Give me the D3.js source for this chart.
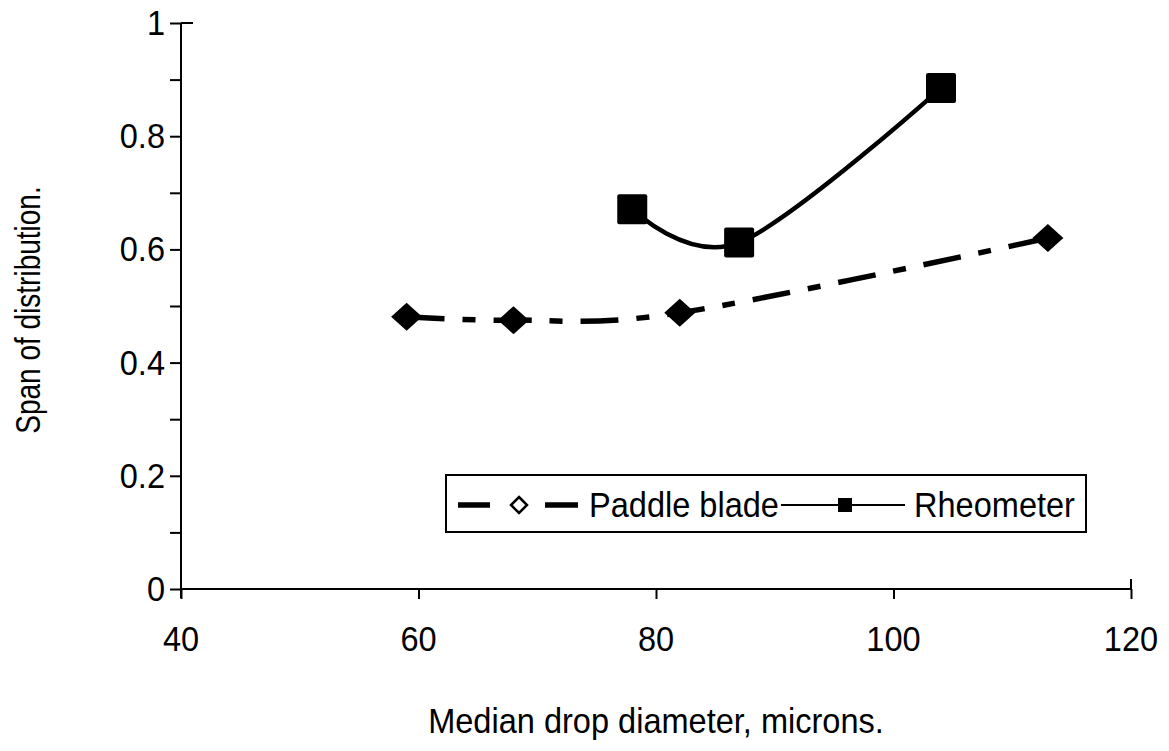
<!DOCTYPE html>
<html><head><meta charset="utf-8">
<script src="https://cdn.jsdelivr.net/npm/d3@7"></script>
<style>
body{margin:0;background:#fff;}
svg text{font-family:"Liberation Sans",Arial,sans-serif;fill:#000;}
</style></head>
<body>
<svg id="chart" width="1169" height="751"></svg>
<script>
// ---- data ----
const paddleX = [59, 68, 82, 113];
const paddleY = [0.481, 0.475, 0.488, 0.620];
const rheoX = [78, 87, 104];
const rheoY = [0.671, 0.612, 0.885];
const xTicks = [40, 60, 80, 100, 120];
const yTicks = [0, 0.2, 0.4, 0.6, 0.8, 1];
const yMinorTicks = [0.1, 0.3, 0.5, 0.7, 0.9];
const seriesNames = ["Paddle blade", "Rheometer"];
const xTitle = "Median drop diameter, microns.";
const yTitle = "Span of distribution.";

const svg = d3.select("#chart");
const x = d3.scaleLinear().domain([40, 120]).range([181, 1131]);
const y = d3.scaleLinear().domain([0, 1]).range([589, 23]);
const SX = 0.93; // horizontal scale of horizontal text
const FS = 35;

function hText(g, tx, ty, txt, anchor) {
  const t = g.append("g").attr("transform", `translate(${tx},${ty}) scale(${SX},1)`);
  t.append("text").attr("text-anchor", anchor).attr("font-size", FS).text(txt);
  return t;
}

// axes
const xAxis = d3.axisBottom(x).tickValues(xTicks).tickSize(10).tickFormat("");
const gx = svg.append("g").attr("transform", `translate(0,${y(0)})`).call(xAxis);
const yAxis = d3.axisLeft(y).tickValues(yTicks.concat(yMinorTicks)).tickSize(11).tickFormat("");
const gy = svg.append("g").attr("transform", `translate(${x(40)},0)`).call(yAxis);
[gx, gy].forEach(g => {
  g.selectAll("path.domain").attr("stroke", "#000").attr("stroke-width", 2);
  g.selectAll(".tick line").attr("stroke", "#000").attr("stroke-width", 2);
});
gx.select("path.domain").attr("d", `M${x(40)},0H${x(120)}`);
gy.select("path.domain").attr("d", `M0,${y(1)}V${y(0) + 9}`);
// cross ticks at the ends
gx.append("line").attr("x1", x(120)).attr("x2", x(120)).attr("y1", -10).attr("y2", 0).attr("stroke", "#000").attr("stroke-width", 2);
gy.append("line").attr("x1", 0).attr("x2", 12).attr("y1", y(1)).attr("y2", y(1)).attr("stroke", "#000").attr("stroke-width", 2);

// tick labels
xTicks.forEach(v => hText(svg, x(v), y(0) + 62, String(v), "middle"));
yTicks.forEach(v => hText(svg, x(40) - 16, y(v) + 12, String(v), "end"));

// titles
hText(svg, 656, 733, xTitle, "middle");
const yt = svg.append("g").attr("transform", `translate(40,310) scale(1.28,1) rotate(-90)`);
yt.append("text").attr("text-anchor", "middle").attr("font-size", 28).text(yTitle);

// lines
const line = d3.line().x(d => x(d[0])).y(d => y(d[1])).curve(d3.curveCardinal.tension(0));
const pData = paddleX.map((v, i) => [v, paddleY[i]]);
const rData = rheoX.map((v, i) => [v, rheoY[i]]);
svg.append("path").datum(pData).attr("d", line).attr("fill", "none").attr("stroke", "#000")
  .attr("stroke-width", 5.5).attr("stroke-dasharray", "38,18,13,18");
svg.append("path").datum(rData).attr("d", line).attr("fill", "none").attr("stroke", "#000")
  .attr("stroke-width", 4.5);

// markers
const diamond = (w, h) => `M0,${-h}L${w},0L0,${h}L${-w},0Z`;
svg.selectAll(".pm").data(pData).join("path").attr("class", "pm")
  .attr("transform", d => `translate(${x(d[0])},${y(d[1])})`)
  .attr("d", diamond(15.5, 14)).attr("fill", "#000");
svg.selectAll(".rm").data(rData).join("rect").attr("class", "rm")
  .attr("x", d => x(d[0]) - 15).attr("y", d => y(d[1]) - 15)
  .attr("width", 30).attr("height", 30).attr("rx", 2).attr("fill", "#000");

// legend
const lg = svg.append("g");
lg.append("rect").attr("x", 446).attr("y", 475).attr("width", 640).attr("height", 57)
  .attr("fill", "#fff").attr("stroke", "#000").attr("stroke-width", 2);
const ly = 505;
lg.append("line").attr("x1", 458).attr("x2", 578).attr("y1", ly).attr("y2", ly)
  .attr("stroke", "#000").attr("stroke-width", 5.5).attr("stroke-dasharray", "32,55,33");
lg.append("path").attr("transform", `translate(519,${ly})`).attr("d", diamond(8, 8))
  .attr("fill", "#fff").attr("stroke", "#000").attr("stroke-width", 2.5);
hText(lg, 589, ly + 12, seriesNames[0], "start");
lg.append("line").attr("x1", 781).attr("x2", 905).attr("y1", ly).attr("y2", ly)
  .attr("stroke", "#000").attr("stroke-width", 2);
lg.append("rect").attr("x", 838).attr("y", ly - 7).attr("width", 14).attr("height", 14).attr("fill", "#000");
hText(lg, 914, ly + 12, seriesNames[1], "start");
</script>
</body></html>
